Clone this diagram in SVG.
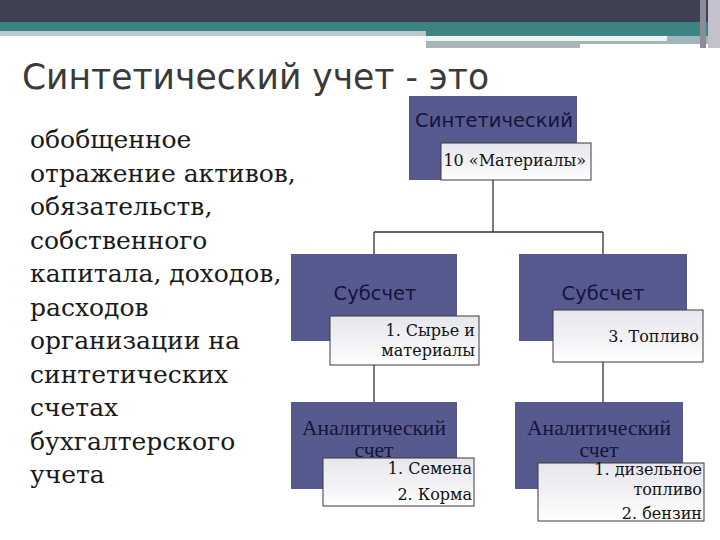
<svg xmlns="http://www.w3.org/2000/svg" width="720" height="540" viewBox="0 0 720 540">
<defs>
<linearGradient id="sub" x1="0" y1="0" x2="0" y2="1">
<stop offset="0" stop-color="#e6e6ee"/>
<stop offset="0.5" stop-color="#f1f1f5"/>
<stop offset="1" stop-color="#ffffff"/>
</linearGradient>
</defs>
<style>
.box{fill:#575a8e;}
.sub{fill:url(#sub);stroke:#3a3a3a;stroke-width:1;}
.hd{font-family:"DejaVu Sans","Liberation Sans",sans-serif;font-size:19.5px;fill:#14143a;text-anchor:middle;}
.an{font-family:"Liberation Serif",serif;font-size:21.5px;fill:#14143a;text-anchor:middle;}
.st{font-family:"DejaVu Serif","Liberation Serif",serif;font-size:16px;fill:#111;text-anchor:end;}
.body{font-family:"DejaVu Serif","Liberation Serif",serif;font-size:25px;fill:#1a1a1a;}
.conn{stroke:#333;stroke-width:1.3;fill:none;}
</style>
<rect width="720" height="540" fill="#ffffff"/>
<!-- header -->
<rect x="0" y="0" width="720" height="23" fill="#3f4052"/>
<rect x="0" y="22" width="720" height="10" fill="#3d8384"/>
<rect x="0" y="31" width="426" height="5" fill="#b9c8cc"/>
<rect x="426" y="31" width="282" height="5" fill="#3d8384"/>
<rect x="426" y="37" width="241" height="4" fill="#e6f6f6"/>
<rect x="426" y="41" width="241" height="3" fill="#aab4b4"/>
<rect x="426" y="44" width="154" height="4" fill="#aab4b4"/>
<rect x="667" y="36" width="41" height="8" fill="#9fb7b8"/>
<rect x="700" y="0" width="6" height="48" fill="#8d8b98"/>
<rect x="708" y="0" width="12" height="48" fill="#c4c0cc"/>
<text x="22" y="89" font-family="'DejaVu Sans Condensed','DejaVu Sans',sans-serif" font-size="36" fill="#3a3a3a" textLength="467" lengthAdjust="spacingAndGlyphs">Синтетический учет - это</text>
<!-- body text -->
<g id="definition">
<text class="body" x="30" y="148">обобщенное</text>
<text class="body" x="30" y="181.5">отражение активов,</text>
<text class="body" x="30" y="215">обязательств,</text>
<text class="body" x="30" y="248.5">собственного</text>
<text class="body" x="30" y="282">капитала, доходов,</text>
<text class="body" x="30" y="315.5">расходов</text>
<text class="body" x="30" y="349">организации на</text>
<text class="body" x="30" y="382.5">синтетических</text>
<text class="body" x="30" y="416">счетах</text>
<text class="body" x="30" y="449.5">бухгалтерского</text>
<text class="body" x="30" y="483">учета</text>
</g>
<!-- connectors -->
<g id="connectors">
<path class="conn" d="M493 180 V232 M374 232 H603 M374 232 V254 M603 232 V254 M374 365 V402 M603 362 V402"/>
</g>
<g id="synthetic">
<rect class="box" x="409" y="96" width="168" height="84"/>
<text class="hd" x="494" y="127">Синтетический</text>
<rect class="sub" x="441" y="143" width="150" height="37"/>
<text class="st" x="586" y="166">10 «Материалы»</text>
</g>
<g id="sub1">
<rect class="box" x="291" y="254" width="166" height="87"/>
<text class="hd" x="375" y="300">Субсчет</text>
<rect class="sub" x="330" y="316" width="149" height="49"/>
<text class="st" x="475" y="336">1. Сырье и</text>
<text class="st" x="475" y="356">материалы</text>
</g>
<g id="sub2">
<rect class="box" x="519" y="254" width="168" height="87"/>
<text class="hd" x="603" y="300">Субсчет</text>
<rect class="sub" x="553" y="310" width="150" height="52"/>
<text class="st" x="699" y="342">3. Топливо</text>
</g>
<g id="anal1">
<rect class="box" x="291" y="402" width="166" height="87"/>
<text class="an" x="374" y="435">Аналитический</text>
<text class="an" x="374" y="457">счет</text>
<rect class="sub" x="323" y="458" width="151" height="48"/>
<text class="st" x="472" y="474">1. Семена</text>
<text class="st" x="472" y="500">2. Корма</text>
</g>
<g id="anal2">
<rect class="box" x="515" y="402" width="168" height="87"/>
<text class="an" x="599" y="435">Аналитический</text>
<text class="an" x="599" y="457">счет</text>
<rect class="sub" x="538" y="463" width="166" height="58"/>
<text class="st" x="702" y="475">1. дизельное</text>
<text class="st" x="702" y="495">топливо</text>
<text class="st" x="702" y="519">2. бензин</text>
</g>
</svg>
